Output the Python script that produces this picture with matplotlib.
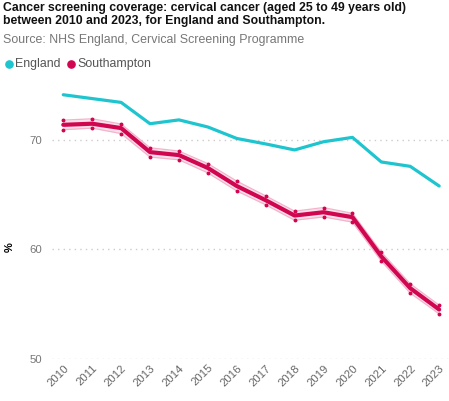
import matplotlib
matplotlib.use("Agg")
import matplotlib.pyplot as plt
from matplotlib.lines import Line2D

years = list(range(2010, 2024))
england = [74.15, 73.8, 73.45, 71.5, 71.85, 71.2, 70.15, 69.65, 69.1, 69.85, 70.25, 68.0, 67.6, 65.8]
southampton = [71.4, 71.5, 71.1, 68.9, 68.63, 67.45, 65.8, 64.5, 63.1, 63.4, 62.95, 59.35, 56.45, 54.5]
south_upper = [71.83, 71.95, 71.47, 69.3, 69.0, 67.85, 66.25, 64.9, 63.5, 63.83, 63.3, 59.75, 56.85, 54.9]
south_lower = [70.95, 71.1, 70.6, 68.45, 68.2, 67.0, 65.35, 64.08, 62.67, 62.97, 62.5, 58.93, 56.0, 54.1]
yticks = [50, 60, 70]

title = "Cancer screening coverage: cervical cancer (aged 25 to 49 years old)\nbetween 2010 and 2023, for England and Southampton."
source = "Source: NHS England, Cervical Screening Programme"

TEAL = "#1EC5CF"
CRIM = "#D10650"
PINK = "#F3B3CB"

plt.rcParams['font.family'] = ['Liberation Sans', 'DejaVu Sans']

fig = plt.figure(figsize=(4.49, 4.01), dpi=100)
ax = fig.add_axes([52/449, 1-358.7/401, 1-52/449, (358.7-80)/401])

ax.fill_between(years, south_lower, south_upper, color=PINK, alpha=0.4, lw=0, zorder=2)
ax.plot(years, south_upper, color=PINK, lw=0.9, zorder=2)
ax.plot(years, south_lower, color=PINK, lw=0.9, zorder=2)
ax.plot(years, south_upper, ls='none', marker='o', ms=1.8, color=CRIM, zorder=4)
ax.plot(years, south_lower, ls='none', marker='o', ms=1.8, color=CRIM, zorder=4)
ax.plot(years, southampton, color=CRIM, lw=3.0, solid_capstyle='round', solid_joinstyle='round', zorder=3)
ax.plot(years, england, color=TEAL, lw=2.3, solid_capstyle='round', solid_joinstyle='round', zorder=3)

ax.set_xlim(2009.61, 2023.34)
ax.set_ylim(50, 75.5)
ax.set_yticks(yticks)
ax.set_xticks(years)
ax.set_xticklabels([str(y) for y in years], rotation=45, ha='right', va='top',
                   rotation_mode='anchor', color='#666666', fontsize=8.2)
ax.set_yticklabels([str(v) for v in yticks], color='#777777', fontsize=8.2)
ax.tick_params(axis='both', length=0)
ax.tick_params(axis='y', pad=7)
ax.tick_params(axis='x', pad=3)
for s in ax.spines.values():
    s.set_visible(False)
ax.grid(axis='y', color='#CCCCCC', ls=(0, (1, 3)), lw=1.0)
ax.set_axisbelow(True)
ax.set_ylabel('%', fontsize=8, fontweight='bold')
ax.yaxis.set_label_coords(-0.095, 0.4)

fig.text(3/449, 1-1.5/401, title, ha='left', va='top', fontsize=8.8, fontweight='bold',
         color='#111111', linespacing=1.12)
fig.text(3/449, 1-40/401, source, ha='left', va='center', fontsize=8.9, color='#777777')

fig.lines.append(Line2D([9/449], [1-64/401], marker='o', ms=5.2, color=TEAL, transform=fig.transFigure))
fig.text(15/449, 1-64/401, "England", ha='left', va='center', fontsize=8.9, color='#555555')
fig.lines.append(Line2D([71/449], [1-64/401], marker='o', ms=5.2, color=CRIM, transform=fig.transFigure))
fig.text(77/449, 1-64/401, "Southampton", ha='left', va='center', fontsize=8.9, color='#555555')

fig.savefig("out.png", dpi=100, facecolor='white')
